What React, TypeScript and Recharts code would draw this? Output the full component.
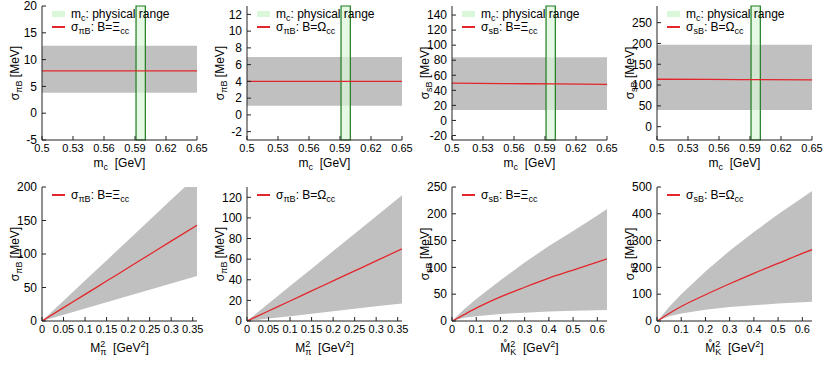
import React from 'react';
import { ComposedChart, Area, Line, XAxis, YAxis, ReferenceArea, Legend } from 'recharts';

// ---- top row: sigma terms vs m_c ----
const mcX = [0.5, 0.55, 0.6, 0.65];
const mcTicks = [0.5, 0.53, 0.56, 0.59, 0.62, 0.65];
const mcPhysical = [0.591, 0.6];

const piXiLow = [3.8, 3.8, 3.8, 3.8];
const piXiMid = [7.9, 7.9, 7.9, 7.9];
const piXiHigh = [12.6, 12.6, 12.6, 12.6];

const piOmLow = [1.1, 1.1, 1.1, 1.1];
const piOmMid = [4.0, 4.0, 4.0, 4.0];
const piOmHigh = [6.9, 6.9, 6.9, 6.9];

const sXiLow = [14, 14, 14, 14];
const sXiMid = [49.5, 49, 48.5, 48];
const sXiHigh = [84, 84, 84, 84];

const sOmLow = [40, 40, 40, 40];
const sOmMid = [114, 113.5, 113, 112.5];
const sOmHigh = [197, 197, 197, 197];

// ---- bottom row: sigma terms vs meson mass squared ----
const mpiX = [0, 0.05, 0.1, 0.15, 0.2, 0.25, 0.3, 0.36];
const mpiTicks = [0, 0.05, 0.1, 0.15, 0.2, 0.25, 0.3, 0.35];

const piXiMLow = [0, 9.3, 18.6, 27.9, 37.2, 46.5, 55.8, 67];
const piXiMMid = [0, 19.9, 39.7, 59.6, 79.4, 99.3, 119.2, 143];
const piXiMHigh = [0, 30.1, 60.3, 90.4, 120.6, 150.7, 180.8, 217];

const piOmMLow = [0, 2.4, 4.7, 7.1, 9.4, 11.8, 14.2, 17];
const piOmMMid = [0, 9.7, 19.4, 29.2, 38.9, 48.6, 58.3, 70];
const piOmMHigh = [0, 16.9, 33.9, 50.8, 67.8, 84.7, 101.7, 122];

const mkX = [0.005, 0.05, 0.1, 0.2, 0.3, 0.4, 0.5, 0.6, 0.64];
const mkTicks = [0, 0.1, 0.2, 0.3, 0.4, 0.5, 0.6];

const sXiMLow = [0.5, 6, 9, 13, 15.5, 17.5, 19, 20, 20.5];
const sXiMMid = [1, 12, 24, 45, 63, 80, 95, 110, 116];
const sXiMHigh = [2, 22, 41, 76, 109, 140, 168, 197, 209];

const sOmMLow = [1, 18, 28, 42, 52, 59, 65, 70, 72];
const sOmMMid = [2, 28, 54, 98, 139, 178, 215, 252, 266];
const sOmMHigh = [4, 52, 100, 185, 262, 332, 398, 460, 485];

const FONT = '"Liberation Sans", Arial, Helvetica, sans-serif';
const GREY = '#c0c0c0';
const RED = '#e3262b';
const GREEN_FILL = '#daf7da';
const GREEN_LINE = '#1e7d1e';

const rows = (xs: number[], lo: number[], mid: number[], hi: number[]) =>
  xs.map((x, i) => ({ x, band: [lo[i], hi[i]], mid: mid[i] }));

type Part = { t: string; off?: number; small?: boolean; dx?: number };

const renderParts = (parts: Part[]) => {
  let cur = 0;
  return parts.map((p, i) => {
    const off = p.off || 0;
    const dy = off - cur;
    cur = off;
    return (
      <tspan key={i} dy={dy} dx={p.dx} fontSize={p.small ? 9 : 12}>
        {p.t}
      </tspan>
    );
  });
};

const sub = (t: string): Part => ({ t, off: 3, small: true });
const sup = (t: string): Part => ({ t, off: -5, small: true });

const sigmaPi: Part[] = [{ t: 'σ' }, sub('πB'), { t: '\u00a0[MeV]' }];
const sigmaS: Part[] = [{ t: 'σ' }, sub('sB'), { t: '\u00a0[MeV]' }];
const mcLabel: Part[] = [{ t: 'm' }, sub('c'), { t: '\u00a0\u00a0[GeV]' }];
const mpiLabel: Part[] = [
  { t: 'M' }, sup('2'), { ...sub('π'), dx: -5 }, { t: '\u00a0\u00a0[GeV' }, sup('2'), { t: ']' },
];
const mkLabel: Part[] = [
  { t: 'M\u030A' }, sup('2'), { ...sub('K'), dx: -5 }, { t: '\u00a0\u00a0[GeV' }, sup('2'), { t: ']' },
];

const subStyle: React.CSSProperties = { fontSize: 9, verticalAlign: '-3px', lineHeight: 0 };

const LegendBox = ({ withBand, name, baryon }: { withBand: boolean; name: string; baryon: string }) => (
  <div style={{ fontFamily: FONT, fontSize: 12, color: '#000', lineHeight: '12.5px' }}>
    {withBand && (
      <div style={{ display: 'flex', alignItems: 'center', whiteSpace: 'nowrap' }}>
        <span style={{ width: 13, height: 6, background: GREEN_FILL, marginRight: 6 }} />
        <span>
          m<sub style={subStyle}>c</sub>: physical range
        </span>
      </div>
    )}
    <div style={{ display: 'flex', alignItems: 'center', whiteSpace: 'nowrap' }}>
      <span style={{ width: 13, height: 2, background: RED, marginRight: 6 }} />
      <span>
        σ<sub style={subStyle}>{name}</sub>: B={baryon}
        <sub style={subStyle}>cc</sub>
      </span>
    </div>
  </div>
);

interface PanelProps {
  left: number;
  top: number;
  height: number;
  marginTop: number;
  axisHeight: number;
  data: { x: number; band: number[]; mid: number }[];
  xDomain: number[];
  xTicks: number[];
  yDomain: number[];
  yTicks: number[];
  yLabel: Part[];
  xLabel: Part[];
  xLabelGap: number;
  physical?: number[];
  sigmaName: string;
  baryon: string;
}

const AXIS_W = 42;
const PLOT_W = 155;
const RIGHT = 18;
const W = AXIS_W + PLOT_W + RIGHT;

const Panel = (p: PanelProps) => {
  const plotBottom = p.height - p.axisHeight;
  const plotMidY = (p.marginTop + plotBottom) / 2;
  const plotMidX = AXIS_W + PLOT_W / 2;
  const xTickStyle = { fill: '#000', fontSize: 11, fontFamily: FONT };
  const yTickStyle = { fill: '#000', fontSize: 12, fontFamily: FONT };
  return (
    <div style={{ position: 'absolute', left: p.left, top: p.top }}>
      <ComposedChart
        width={W}
        height={p.height}
        data={p.data}
        margin={{ top: p.marginTop, right: RIGHT, bottom: 0, left: 0 }}
      >
        <XAxis
          xAxisId="b"
          dataKey="x"
          type="number"
          domain={p.xDomain}
          ticks={p.xTicks}
          interval={0}
          allowDataOverflow
          height={p.axisHeight}
          tickSize={-4}
          tickMargin={8}
          tick={xTickStyle}
          stroke="#222"
          label={{
            content: () => (
              <text x={plotMidX} y={plotBottom + p.xLabelGap} textAnchor="middle" fill="#000" fontFamily={FONT}>
                {renderParts(p.xLabel)}
              </text>
            ),
          }}
        />
        <XAxis
          xAxisId="t"
          orientation="top"
          type="number"
          domain={p.xDomain}
          ticks={p.xTicks}
          interval={0}
          height={0}
          tickSize={-4}
          tick={false}
          stroke="#222"
        />
        <YAxis
          yAxisId="l"
          type="number"
          domain={p.yDomain}
          ticks={p.yTicks}
          interval={0}
          allowDataOverflow
          width={AXIS_W}
          tickSize={-4}
          tickMargin={9}
          tick={yTickStyle}
          stroke="#222"
          label={{
            content: () => (
              <text
                x={19}
                y={plotMidY}
                textAnchor="middle"
                fill="#000"
                fontFamily={FONT}
                transform={`rotate(-90, 19, ${plotMidY})`}
              >
                {renderParts(p.yLabel)}
              </text>
            ),
          }}
        />
        <YAxis
          yAxisId="r"
          orientation="right"
          type="number"
          domain={p.yDomain}
          ticks={p.yTicks}
          interval={0}
          width={0}
          tickSize={-4}
          tick={false}
          stroke="#222"
        />
        <Area
          xAxisId="b"
          yAxisId="l"
          dataKey="band"
          type="linear"
          fill={GREY}
          fillOpacity={1}
          stroke="none"
          isAnimationActive={false}
        />
        {p.physical && (
          <ReferenceArea
            xAxisId="b"
            yAxisId="l"
            x1={p.physical[0]}
            x2={p.physical[1]}
            fill={GREEN_FILL}
            fillOpacity={0.7}
            stroke={GREEN_LINE}
            strokeWidth={1.2}
          />
        )}
        <Line
          xAxisId="b"
          yAxisId="l"
          dataKey="mid"
          type="monotone"
          stroke={RED}
          strokeWidth={1.3}
          dot={false}
          isAnimationActive={false}
        />
        <Legend
          layout="horizontal"
          verticalAlign="middle"
          align="center"
          wrapperStyle={{ left: 52, top: p.marginTop + 2, width: 'auto', height: 'auto' }}
          content={() => <LegendBox withBand={!!p.physical} name={p.sigmaName} baryon={p.baryon} />}
        />
      </ComposedChart>
    </div>
  );
};

const topCommon = { top: 0, height: 180, marginTop: 6, axisHeight: 40, xLabelGap: 27, xDomain: [0.5, 0.65], xTicks: mcTicks, physical: mcPhysical, xLabel: mcLabel };
const botCommon = { top: 180, height: 185, marginTop: 7, axisHeight: 44, xLabelGap: 31 };

export default function App() {
  return (
    <div style={{ position: 'absolute', left: 0, top: 0, width: 830, height: 365, background: '#fff', fontFamily: FONT }}>
      <Panel {...topCommon} left={0} data={rows(mcX, piXiLow, piXiMid, piXiHigh)}
        yDomain={[-5, 20]} yTicks={[-5, 0, 5, 10, 15, 20]} yLabel={sigmaPi} sigmaName="πB" baryon="Ξ" />
      <Panel {...topCommon} left={205} data={rows(mcX, piOmLow, piOmMid, piOmHigh)}
        yDomain={[-3, 13]} yTicks={[-2, 0, 2, 4, 6, 8, 10, 12]} yLabel={sigmaPi} sigmaName="πB" baryon="Ω" />
      <Panel {...topCommon} left={410} data={rows(mcX, sXiLow, sXiMid, sXiHigh)}
        yDomain={[-26, 152]} yTicks={[-20, 0, 20, 40, 60, 80, 100, 120, 140]} yLabel={sigmaS} sigmaName="sB" baryon="Ξ" />
      <Panel {...topCommon} left={615} data={rows(mcX, sOmLow, sOmMid, sOmHigh)}
        yDomain={[-32, 290]} yTicks={[0, 50, 100, 150, 200, 250]} yLabel={sigmaS} sigmaName="sB" baryon="Ω" />

      <Panel {...botCommon} left={0} data={rows(mpiX, piXiMLow, piXiMMid, piXiMHigh)}
        xDomain={[0, 0.36]} xTicks={mpiTicks} xLabel={mpiLabel}
        yDomain={[0, 200]} yTicks={[0, 50, 100, 150, 200]} yLabel={sigmaPi} sigmaName="πB" baryon="Ξ" />
      <Panel {...botCommon} left={205} data={rows(mpiX, piOmMLow, piOmMMid, piOmMHigh)}
        xDomain={[0, 0.36]} xTicks={mpiTicks} xLabel={mpiLabel}
        yDomain={[0, 130]} yTicks={[0, 20, 40, 60, 80, 100, 120]} yLabel={sigmaPi} sigmaName="πB" baryon="Ω" />
      <Panel {...botCommon} left={410} data={rows(mkX, sXiMLow, sXiMMid, sXiMHigh)}
        xDomain={[0, 0.64]} xTicks={mkTicks} xLabel={mkLabel}
        yDomain={[0, 250]} yTicks={[0, 50, 100, 150, 200, 250]} yLabel={sigmaS} sigmaName="sB" baryon="Ξ" />
      <Panel {...botCommon} left={615} data={rows(mkX, sOmMLow, sOmMMid, sOmMHigh)}
        xDomain={[0, 0.64]} xTicks={mkTicks} xLabel={mkLabel}
        yDomain={[0, 500]} yTicks={[0, 100, 200, 300, 400, 500]} yLabel={sigmaS} sigmaName="sB" baryon="Ω" />
    </div>
  );
}
